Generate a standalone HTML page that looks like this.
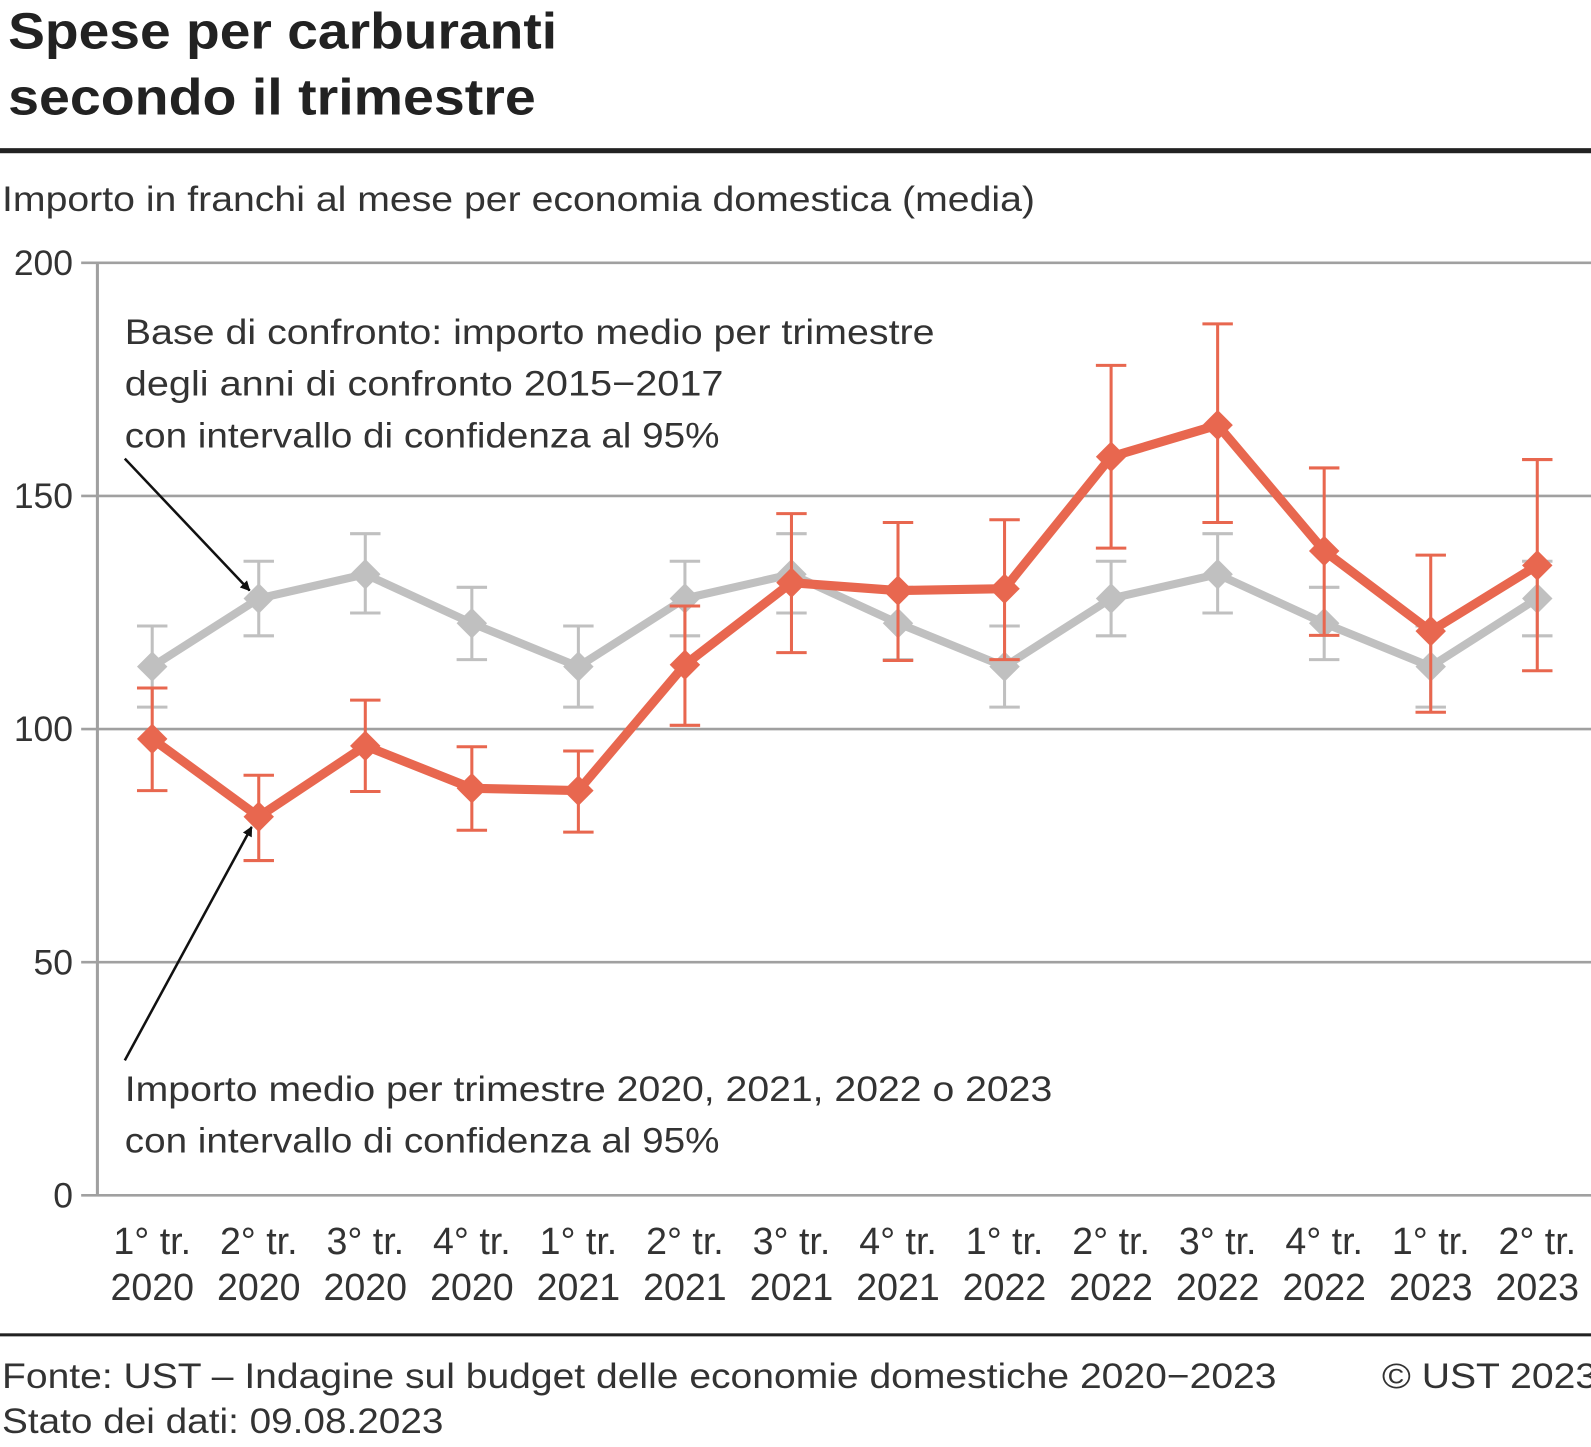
<!DOCTYPE html>
<html><head><meta charset="utf-8"><style>
body{margin:0;background:#fff;width:1591px;height:1447px;overflow:hidden;font-family:"Liberation Sans",sans-serif;}
svg{position:absolute;left:0;top:0}
</style></head><body>
<svg width="1591" height="1447">
<defs><marker id="ah" markerWidth="10" markerHeight="10" refX="9" refY="5" orient="auto" markerUnits="userSpaceOnUse" viewBox="0 0 10 10"><path d="M0,0 L10,5 L0,10z" fill="#111"/></marker></defs>
<g transform="scale(1.0147)">
<text x="8" y="48" font-size="50" font-weight="bold" fill="#222" textLength="541" lengthAdjust="spacingAndGlyphs">Spese per carburanti</text>
<text x="8" y="113" font-size="50" font-weight="bold" fill="#222" textLength="520" lengthAdjust="spacingAndGlyphs">secondo il trimestre</text>
<rect x="0" y="146" width="1591" height="5" fill="#222"/>
<text x="2" y="208" font-size="35" fill="#333" textLength="1018" lengthAdjust="spacingAndGlyphs">Importo in franchi al mese per economia domestica (media)</text>
<g id="grid"></g>
<g id="series"></g>
<g font-size="35" fill="#333">
<text x="123" y="339" textLength="798" lengthAdjust="spacingAndGlyphs">Base di confronto: importo medio per trimestre</text>
<text x="123" y="390" textLength="590" lengthAdjust="spacingAndGlyphs">degli anni di confronto 2015−2017</text>
<text x="123" y="441" textLength="586" lengthAdjust="spacingAndGlyphs">con intervallo di confidenza al 95%</text>
<text x="123" y="1085" textLength="914" lengthAdjust="spacingAndGlyphs">Importo medio per trimestre 2020, 2021, 2022 o 2023</text>
<text x="123" y="1136" textLength="586" lengthAdjust="spacingAndGlyphs">con intervallo di confidenza al 95%</text>
</g>
<line x1="123" y1="452" x2="246" y2="582" stroke="#111" stroke-width="2.5" marker-end="url(#ah)"/>
<line x1="123" y1="1045" x2="248" y2="815" stroke="#111" stroke-width="2.5" marker-end="url(#ah)"/>
<rect x="0" y="1314" width="1591" height="3" fill="#222"/>
<g font-size="35" fill="#333">
<text x="2" y="1368" textLength="1256" lengthAdjust="spacingAndGlyphs">Fonte: UST – Indagine sul budget delle economie domestiche 2020−2023</text>
<text x="1362" y="1368" textLength="212" lengthAdjust="spacingAndGlyphs">© UST 2023</text>
<text x="2" y="1412" textLength="435" lengthAdjust="spacingAndGlyphs">Stato dei dati: 09.08.2023</text>
</g>
</g>
</svg>
<script>
const quarters=["1° tr.","2° tr.","3° tr.","4° tr.","1° tr.","2° tr.","3° tr.","4° tr.","1° tr.","2° tr.","3° tr.","4° tr.","1° tr.","2° tr."];
const years=["2020","2020","2020","2020","2021","2021","2021","2021","2022","2022","2022","2022","2023","2023"];
const baseVals=[113.4,128,133.2,122.7,113.4,128,133.2,122.7,113.4,128,133.2,122.7,113.4,128];
const baseHi=[122.1,136,141.9,130.4,122.1,136,141.9,130.4,122.1,136,141.9,130.4,122.1,136];
const baseLo=[104.7,120,124.9,114.9,104.7,120,124.9,114.9,104.7,120,124.9,114.9,104.7,120];
const curVals=[97.9,81.2,96.4,87.3,86.8,113.8,131.4,129.7,130.1,158.4,165.2,138.2,121,135.1];
const curHi=[108.8,90.1,106.2,96.2,95.3,126.4,146.2,144.3,144.9,178,186.9,156,137.3,157.8];
const curLo=[86.8,71.8,86.6,78.3,77.9,100.8,116.4,114.7,114.9,138.8,144.3,120.1,103.6,112.5];
const yTicks=[0,50,100,150,200];
const NS="http://www.w3.org/2000/svg";
const y=v=>1178-v*4.595;
const x=i=>150+i*105;
function mk(t,a,p){const e=document.createElementNS(NS,t);for(const k in a)e.setAttribute(k,a[k]);p.appendChild(e);return e;}
const g=document.getElementById('grid'),s=document.getElementById('series');
yTicks.forEach(v=>{
  const l=mk('line',{x1:80,x2:1591,y1:y(v),y2:y(v),stroke:'#a0a0a0','stroke-width':2.5},g);
  
  
  const t=mk('text',{x:72,y:y(v)+12,'font-size':35,fill:'#333','text-anchor':'end'},g);t.textContent=v;
  
  
});
const ax=mk('line',{x1:96,x2:96,y1:y(200),y2:y(0)+1,stroke:'#a0a0a0','stroke-width':3},g);


quarters.forEach((q,i)=>{
  const t=mk('text',{x:x(i),y:1236,'font-size':37,fill:'#333','text-anchor':'middle'},g);
  t.innerHTML='<tspan x="'+x(i)+'">'+q+'</tspan><tspan x="'+x(i)+'" dy="45">'+years[i]+'</tspan>';
  
  
});
function series(vals,hi,lo,col,w,name){
  const grp=mk('g',{},s);
  
  
  vals.forEach((v,i)=>{
    const e=mk('path',{d:`M${x(i)},${y(hi[i])}V${y(lo[i])}M${x(i)-15},${y(hi[i])}h30M${x(i)-15},${y(lo[i])}h30`,stroke:col,'stroke-width':3,fill:'none'},grp);
    
    
  });
  const pl=mk('polyline',{points:vals.map((v,i)=>x(i)+','+y(v)).join(' '),stroke:col,'stroke-width':w,fill:'none','stroke-linejoin':'round'},grp);
  
  
  vals.forEach((v,i)=>{
    const m=mk('path',{d:`M${x(i)},${y(v)-15}l15,15l-15,15l-15,-15z`,fill:col},grp);
    
    
  });
}
series(baseVals,baseHi,baseLo,'#c0c0c0',8,'baseline');
series(curVals,curHi,curLo,'#e8674f',9,'current');
</script>
</body></html>
